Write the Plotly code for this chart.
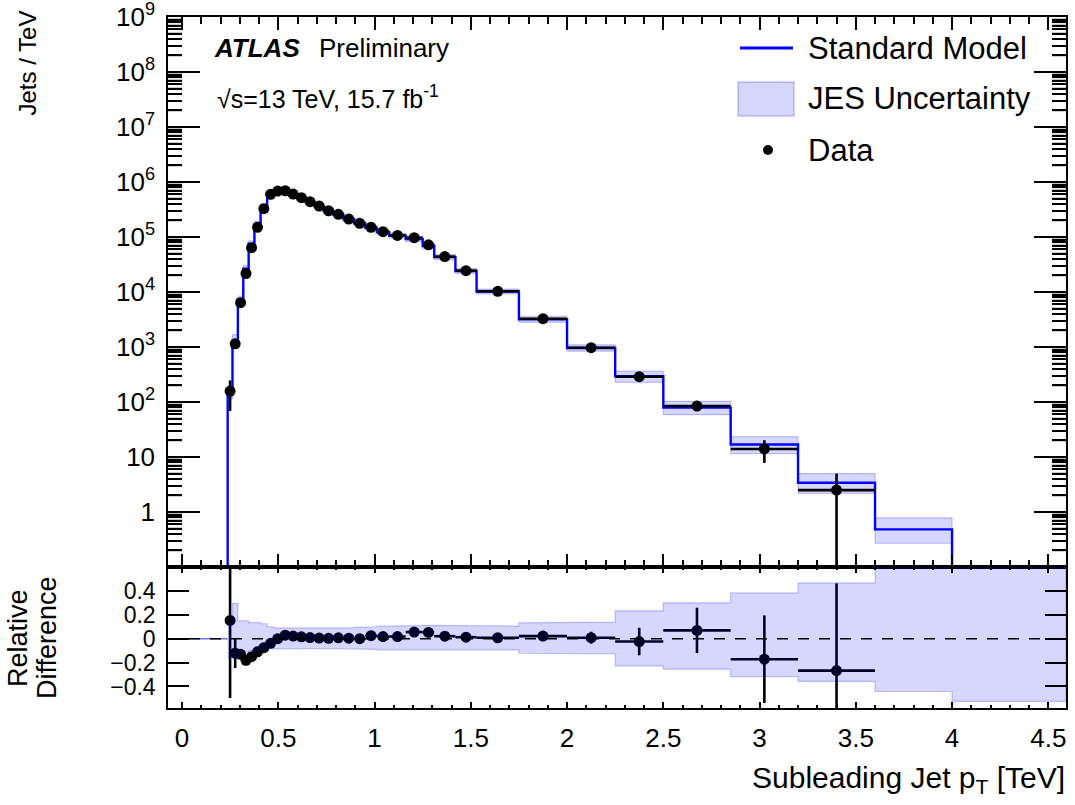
import math
import plotly.graph_objects as go

# ---------------- histogram content ----------------
# bin edges of the subleading-jet pT spectrum [TeV]
edges = [0.237, 0.262, 0.290, 0.318, 0.346, 0.376, 0.408, 0.442, 0.478, 0.516,
         0.556, 0.598, 0.642, 0.688, 0.736, 0.786, 0.838, 0.894, 0.952, 1.012,
         1.076, 1.162, 1.250, 1.310, 1.420, 1.530, 1.750, 2.000, 2.250, 2.500,
         2.850, 3.200, 3.600, 4.000]

# Standard Model prediction [jets / TeV]
sm_jets = [137, 1300, 7360, 2.65e4, 7.53e4, 1.685e5, 3.535e5, 6.22e5, 6.83e5, 6.73e5,
           5.90e5, 5.11e5, 4.35e5, 3.64e5, 2.99e5, 2.57e5, 2.11e5, 1.77e5, 1.463e5, 1.228e5,
           1.051e5, 9.19e4, 6.84e4, 4.31e4, 2.41e4, 1.022e4, 3200, 962, 295, 79,
           16.9, 3.41, 0.484]

# measured jets / TeV (no entries in the last bin)
data_jets = [158, 1144, 6400, 2.17e4, 6.40e4, 1.50e5, 3.27e5, 5.98e5, 6.83e5, 6.93e5,
             6.03e5, 5.19e5, 4.39e5, 3.66e5, 3.00e5, 2.59e5, 2.12e5, 1.77e5, 1.50e5, 1.25e5,
             1.07e5, 9.70e4, 7.20e4, 4.40e4, 2.44e4, 1.03e4, 3270, 970, 288, 84.5,
             14.0, 2.50]
data_err = [89, 163, 220, 300, 600, 900, 1300, 1800, 1900, 1900,
            1800, 1600, 1400, 1200, 1100, 1000, 900, 800, 700, 650,
            550, 550, 550, 350, 260, 110, 60, 48, 34, 15,
            6.2, 2.49]

# relative JES uncertainty (up / down) per bin
jes_up = [0.12, 0.295, 0.15, 0.15, 0.135, 0.135, 0.125, 0.10, 0.09, 0.088,
          0.087, 0.087, 0.087, 0.087, 0.087, 0.087, 0.09, 0.095, 0.10, 0.105,
          0.108, 0.11, 0.112, 0.112, 0.11, 0.106, 0.133, 0.139, 0.233, 0.300,
          0.383, 0.467, 0.62]
jes_down = [0.16, 0.16, 0.12, 0.11, 0.10, 0.095, 0.09, 0.085, 0.08, 0.08,
            0.08, 0.08, 0.08, 0.08, 0.08, 0.082, 0.085, 0.088, 0.09, 0.094,
            0.097, 0.10, 0.10, 0.10, 0.097, 0.094, 0.122, 0.128, 0.228, 0.255,
            0.317, 0.358, 0.442]
# uncertainty band continuing beyond the last populated bin
tail_up, tail_down = 1.0, 0.525

x_lo, x_hi = -0.073, 4.592
log_lo, log_hi = -1, 9
ratio_lo, ratio_hi = -0.58, 0.6
ratio_ticks = [-0.4, -0.2, 0.0, 0.2, 0.4]
decades = list(range(0, log_hi + 1))
decade_labels = ["1", "10"] + ["10<sup>%d</sup>" % k for k in decades[2:]]
minor_vals = [k * 10.0 ** n for n in range(log_lo, log_hi) for k in range(2, 10)]

# ---------------- helpers ----------------
FONT = "Liberation Sans, Arial, Helvetica, sans-serif"
BLUE = "#0000ff"
BAND_FILL = "rgba(0,0,255,0.16)"
BAND_EDGE = "rgba(0,0,255,0.22)"

# page geometry of the plotting area (pixels)
L, R, T, B = 168, 9, 17, 97
W, H = 1075, 805
PW, PH = W - L - R, H - T - B
y_split = 567  # boundary between main and ratio pad


def px2x(px):
    return (px - L) / PW


def py2y(py):
    return (H - B - py) / PH


def step_path(e, v):
    xs, ys = [], []
    for i, val in enumerate(v):
        xs += [e[i], e[i + 1]]
        ys += [val, val]
    return xs, ys


centres = [(edges[i] + edges[i + 1]) / 2 for i in range(len(data_jets))]
half_w = [(edges[i + 1] - edges[i]) / 2 for i in range(len(data_jets))]

fig = go.Figure()

# ---- main pad: JES band around the prediction ----
up_abs = [m * (1 + u) for m, u in zip(sm_jets, jes_up)]
dn_abs = [m * (1 - d) for m, d in zip(sm_jets, jes_down)]
xu, yu = step_path(edges, up_abs)
xd, yd = step_path(edges, dn_abs)
fig.add_trace(go.Scatter(x=xu + xd[::-1], y=yu + yd[::-1], fill="toself",
                         fillcolor=BAND_FILL, line=dict(color=BAND_EDGE, width=1.2),
                         mode="lines", hoverinfo="skip", xaxis="x", yaxis="y"))

# ---- main pad: Standard Model histogram ----
floor = 1e-3
xs, ys = step_path(edges, sm_jets)
xs = [edges[0]] + xs + [edges[-1]]
ys = [floor] + ys + [floor]
fig.add_trace(go.Scatter(x=xs, y=ys, mode="lines", line=dict(color=BLUE, width=2.4),
                         xaxis="x", yaxis="y"))

# ---- main pad: data ----
fig.add_trace(go.Scatter(
    x=centres, y=data_jets, mode="markers",
    marker=dict(color="black", size=11, symbol="circle"),
    error_x=dict(type="data", array=half_w, width=0, thickness=2.6, color="black"),
    error_y=dict(type="data", array=data_err, width=0, thickness=2.6, color="black"),
    xaxis="x", yaxis="y"))

# ---- ratio pad: relative difference of data ----
rel = [(d - m) / m for d, m in zip(data_jets, sm_jets)]
rel_err = [e / m for e, m in zip(data_err, sm_jets)]
fig.add_trace(go.Scatter(
    x=centres, y=rel, mode="markers",
    marker=dict(color="black", size=11, symbol="circle"),
    error_x=dict(type="data", array=half_w, width=0, thickness=2.6, color="black"),
    error_y=dict(type="data", array=rel_err, width=0, thickness=2.6, color="black"),
    xaxis="x2", yaxis="y2"))

# ---- ratio pad: JES band ----
edges_r = edges + [x_hi]
up_r = jes_up + [tail_up]
dn_r = [-d for d in jes_down + [tail_down]]
xu, yu = step_path(edges_r, up_r)
xd, yd = step_path(edges_r, dn_r)
fig.add_trace(go.Scatter(x=xu + xd[::-1], y=yu + yd[::-1], fill="toself",
                         fillcolor=BAND_FILL, line=dict(color=BAND_EDGE, width=1.2),
                         mode="lines", hoverinfo="skip", xaxis="x2", yaxis="y2"))

# zero-width band below the first bin
fig.add_trace(go.Scatter(x=[x_lo, edges[0]], y=[0, 0], mode="lines",
                         line=dict(color="rgba(0,0,255,0.55)", width=1.6),
                         xaxis="x2", yaxis="y2"))

# dashed reference at zero
fig.add_trace(go.Scatter(x=[x_lo, x_hi], y=[0, 0], mode="lines",
                         line=dict(color="black", width=1.5, dash="11px,10px"),
                         xaxis="x2", yaxis="y2"))

# ---------------- axes ----------------
split = py2y(y_split)
common = dict(showline=True, linecolor="black", linewidth=1.5, mirror="allticks",
              showgrid=False, zeroline=False, tickcolor="black", tickwidth=1.5,
              automargin=False)

fig.update_layout(
    width=W, height=H,
    margin=dict(l=L, r=R, t=T, b=B, autoexpand=False),
    paper_bgcolor="white", plot_bgcolor="white",
    showlegend=False,
    font=dict(family=FONT, color="black", size=26),
    xaxis=dict(domain=[0, 1], anchor="y", range=[x_lo, x_hi], showticklabels=False,
               tick0=0, dtick=0.5, ticks="inside", ticklen=13,
               minor=dict(dtick=0.1, tick0=0, ticks="inside", ticklen=7,
                          tickcolor="black", tickwidth=1.5, showgrid=False),
               **common),
    yaxis=dict(domain=[split, 1], anchor="x", type="log",
               range=[log_lo, log_hi],
               tickmode="array",
               tickvals=[10 ** k for k in decades], ticktext=decade_labels,
               ticks="inside", ticklen=32, ticklabeloverflow="allow",
               tickfont=dict(size=26), ticklabelstandoff=6,
               minor=dict(tickmode="array", tickvals=minor_vals, ticks="inside",
                          ticklen=14, tickcolor="black", tickwidth=1.5,
                          showgrid=False),
               **common),
    xaxis2=dict(domain=[0, 1], anchor="y2", range=[x_lo, x_hi],
                tick0=0, dtick=0.5, ticks="inside", ticklen=6,
                tickfont=dict(size=26), ticklabelstandoff=6,
                minor=dict(dtick=0.1, tick0=0, ticks="inside", ticklen=3,
                           tickcolor="black", tickwidth=1.5, showgrid=False),
                **common),
    yaxis2=dict(domain=[0, split], anchor="x2", range=[ratio_lo, ratio_hi],
                tickvals=ratio_ticks, ticks="inside", ticklen=21,
                tickfont=dict(size=23), ticklabelstandoff=6,
                **common),
)

# ---- minor log ticks (2..9 per decade) on both frame sides of the main pad ----
shapes = []
minor_len = 14 / PW
for v in minor_vals:
    yp = split + (math.log10(v) - log_lo) / (log_hi - log_lo) * (1 - split)
    for x0, x1 in ((0, minor_len), (1 - minor_len, 1)):
        shapes.append(dict(type="line", xref="paper", yref="paper", layer="above",
                           x0=x0, x1=x1, y0=yp, y1=yp,
                           line=dict(color="black", width=1.5)))

# ---------------- text ----------------
ann = []


def text(s, px, py, size, xanchor="left", yanchor="middle", angle=0):
    ann.append(dict(text=s, x=px2x(px), y=py2y(py), xref="paper", yref="paper",
                    xanchor=xanchor, yanchor=yanchor, showarrow=False,
                    textangle=angle, font=dict(family=FONT, size=size, color="black")))


text("<b><i>ATLAS</i></b>", 212, 48, 26)
text("Preliminary", 317, 48, 26)
text("\u221as=13 TeV, 15.7 fb<sup>-1</sup>", 215, 97, 25)
text("Jets / TeV", 27, 9, 24, xanchor="center", yanchor="top", angle=-90)
text("Relative", 18, 638, 27, xanchor="center", angle=-90)
text("Difference", 47, 638, 27, xanchor="center", angle=-90)
text("Subleading Jet p<sub>T</sub> [TeV]", 1067, 779, 30, xanchor="right")

# legend
text("Standard Model", 806, 48, 31)
text("JES Uncertainty", 806, 99, 31)
text("Data", 806, 150, 31)

shapes += [
    dict(type="line", xref="paper", yref="paper", x0=px2x(740), x1=px2x(793),
         y0=py2y(48), y1=py2y(48), line=dict(color=BLUE, width=3)),
    dict(type="rect", xref="paper", yref="paper", x0=px2x(738), x1=px2x(794),
         y0=py2y(116), y1=py2y(82), fillcolor=BAND_FILL,
         line=dict(color=BAND_EDGE, width=1.5)),
    dict(type="circle", xref="paper", yref="paper", x0=px2x(763), x1=px2x(773),
         y0=py2y(155), y1=py2y(145), fillcolor="black", line=dict(color="black", width=0)),
]

fig.update_layout(annotations=ann, shapes=shapes)

fig.write_html("out.html")
